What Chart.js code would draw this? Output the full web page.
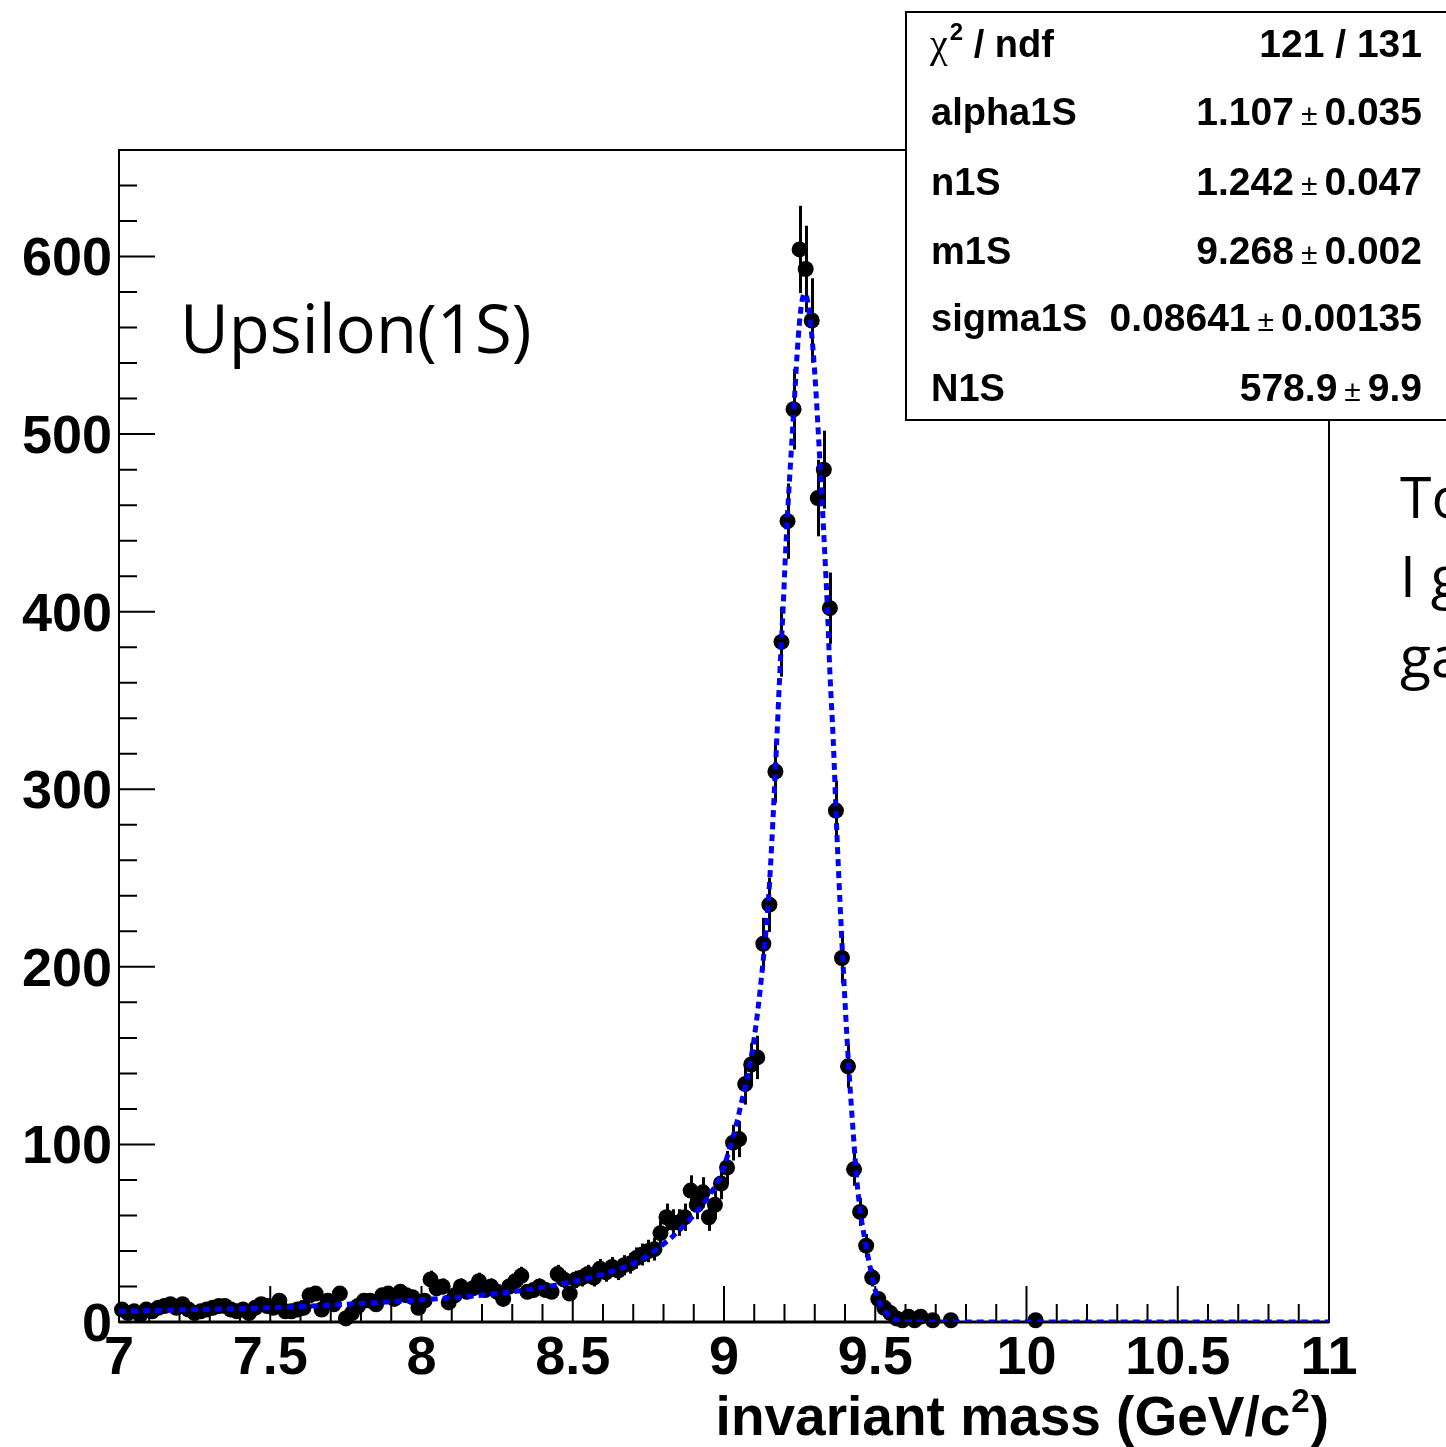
<!DOCTYPE html>
<html>
<head>
<meta charset="utf-8">
<script src="https://cdn.jsdelivr.net/npm/chart.js@4.4.1/dist/chart.umd.min.js"></script>
<style>
  html, body { margin: 0; padding: 0; background: #fff; overflow: hidden; }
  canvas { display: block; }
</style>
</head>
<body>
<canvas id="chart" width="1446" height="1447"></canvas>
<script>
// bin centres (GeV/c^2) of the non-empty bins and their counts
const binCenters = [
  7.01, 7.03, 7.05, 7.07, 7.09, 7.11, 7.13, 7.15, 7.17, 7.19,
  7.21, 7.23, 7.25, 7.27, 7.29, 7.31, 7.33, 7.35, 7.37, 7.39,
  7.41, 7.43, 7.45, 7.47, 7.49, 7.51, 7.53, 7.55, 7.57, 7.59,
  7.61, 7.63, 7.65, 7.67, 7.69, 7.71, 7.73, 7.75, 7.77, 7.79,
  7.81, 7.83, 7.85, 7.87, 7.89, 7.91, 7.93, 7.95, 7.97, 7.99,
  8.01, 8.03, 8.05, 8.07, 8.09, 8.11, 8.13, 8.15, 8.17, 8.19,
  8.21, 8.23, 8.25, 8.27, 8.29, 8.31, 8.33, 8.35, 8.37, 8.39,
  8.41, 8.43, 8.45, 8.47, 8.49, 8.51, 8.53, 8.55, 8.57, 8.59,
  8.61, 8.63, 8.65, 8.67, 8.69, 8.71, 8.73, 8.75, 8.77, 8.79,
  8.81, 8.83, 8.85, 8.87, 8.89, 8.91, 8.93, 8.95, 8.97, 8.99,
  9.01, 9.03, 9.05, 9.07, 9.09, 9.11, 9.13, 9.15, 9.17, 9.19,
  9.21, 9.23, 9.25, 9.27, 9.29, 9.31, 9.33, 9.35, 9.37, 9.39,
  9.41, 9.43, 9.45, 9.47, 9.49, 9.51, 9.53, 9.55, 9.57, 9.59,
  9.61, 9.63, 9.65, 9.69, 9.75, 10.03
];
const counts = [
  7, 5, 6, 4, 7, 6, 8, 9, 10, 8,
  10, 7, 5, 6, 7, 8, 9, 9, 7, 6,
  7, 5, 8, 10, 9, 8, 12, 6, 6, 7,
  8, 15, 16, 7, 12, 10, 16, 2, 5, 9,
  12, 12, 10, 15, 16, 13, 17, 15, 14, 8,
  12, 24, 19, 20, 11, 15, 20, 17, 19, 23,
  18, 20, 17, 13, 20, 23, 26, 17, 18, 20,
  18, 17, 27, 24, 16, 24, 25, 27, 25, 30,
  28, 31, 29, 32, 33, 36, 38, 40, 41, 50,
  59, 56, 56, 59, 74, 66, 73, 59, 66, 78,
  87, 101, 103, 134, 145, 149, 213, 235, 310, 383,
  451, 514, 604, 593, 564, 464, 480, 402, 288, 205,
  144, 86, 62, 43, 25, 13, 8, 5, 2, 1,
  3, 1, 3, 1, 1, 1
];

// fitted curve
const fitMass = [
  7.0, 7.25, 7.5, 7.75, 8.0, 8.25, 8.45, 8.6, 8.7, 8.77,
  8.86, 8.95, 8.99, 9.014, 9.042, 9.058, 9.075, 9.1, 9.125, 9.147,
  9.158, 9.174, 9.185, 9.196, 9.202, 9.213, 9.224, 9.235, 9.242, 9.249,
  9.257, 9.265, 9.272, 9.279, 9.29, 9.301, 9.312, 9.323, 9.334, 9.342,
  9.35, 9.361, 9.372, 9.383, 9.394, 9.411, 9.422, 9.427, 9.439, 9.45,
  9.466, 9.483, 9.5, 9.516, 9.538, 9.571, 9.6, 11.0
];
const fitValue = [
  6, 7, 8, 10, 12.5, 16, 21, 27, 33, 40,
  53, 71, 83, 95, 112, 124, 136, 160, 196, 238,
  270, 326, 367, 404, 428, 464, 495, 526, 546, 562,
  574, 579, 578, 572, 556, 532, 500, 466, 430, 401,
  366, 328, 280, 238, 200, 147, 119, 107, 80, 63,
  46, 31, 18, 10, 5, 1, 0, 0
];

const xTickValues = [7, 7.5, 8, 8.5, 9, 9.5, 10, 10.5, 11];
const xTickLabels = ['7', '7.5', '8', '8.5', '9', '9.5', '10', '10.5', '11'];
const yTickValues = [0, 100, 200, 300, 400, 500, 600];

const chi2Text = '121 / 131';
const statNames = ['alpha1S', 'n1S', 'm1S', 'sigma1S', 'N1S'];
const statValues = ['1.107', '1.242', '9.268', '0.08641', '578.9'];
const statErrors = ['0.035', '0.047', '0.002', '0.00135', '9.9'];

const BOLD = '"Liberation Sans", Arial, sans-serif';

const rootStyle = {
  id: 'rootStyle',
  beforeDatasetsDraw(chart) {
    const { ctx, chartArea: a } = chart;
    const xs = chart.scales.x, ys = chart.scales.y;
    ctx.save();

    // frame
    ctx.strokeStyle = '#000';
    ctx.lineWidth = 2;
    ctx.strokeRect(a.left, a.top, a.right - a.left, a.bottom - a.top);
    ctx.lineWidth = 3;
    ctx.beginPath();
    ctx.moveTo(a.left, a.bottom);
    ctx.lineTo(a.right, a.bottom);
    ctx.stroke();

    // inner ticks
    ctx.lineWidth = 2;
    ctx.beginPath();
    for (let i = 0; i <= 40; i++) {
      const px = xs.getPixelForValue(7 + i * 0.1);
      const len = i % 5 === 0 ? 36 : 18;
      ctx.moveTo(px, a.bottom);
      ctx.lineTo(px, a.bottom - len);
    }
    for (let v = 0; v <= 640; v += 20) {
      const py = ys.getPixelForValue(v);
      const len = v % 100 === 0 ? 36 : 18;
      ctx.moveTo(a.left, py);
      ctx.lineTo(a.left + len, py);
    }
    ctx.stroke();

    // vertical error bars, sqrt(N)
    ctx.lineWidth = 3;
    binCenters.forEach((m, i) => {
      const n = counts[i];
      const e = Math.sqrt(n);
      const px = Math.round(xs.getPixelForValue(m)) + 0.5;
      ctx.beginPath();
      ctx.moveTo(px, ys.getPixelForValue(n - e));
      ctx.lineTo(px, ys.getPixelForValue(n + e));
      ctx.stroke();
    });
    ctx.restore();
  },
  afterDraw(chart) {
    const { ctx, chartArea: a } = chart;
    ctx.save();

    // axis title
    ctx.fillStyle = '#000';
    ctx.textBaseline = 'alphabetic';
    ctx.textAlign = 'left';
    ctx.font = 'bold 55px ' + BOLD;
    const tMain = 'invariant mass (GeV/c', tEnd = ')';
    const wMain = ctx.measureText(tMain).width, wEnd = ctx.measureText(tEnd).width;
    ctx.font = 'bold 33px ' + BOLD;
    const wSup = ctx.measureText('2').width;
    let tx = a.right - wEnd - wSup - 2 - wMain;
    ctx.font = 'bold 55px ' + BOLD;
    ctx.fillText(tMain, tx, 1435);
    ctx.font = 'bold 33px ' + BOLD;
    ctx.fillText('2', tx + wMain + 1, 1412);
    ctx.font = 'bold 55px ' + BOLD;
    ctx.fillText(tEnd, tx + wMain + wSup + 2, 1435);

    // labels on the pad
    ctx.font = '67px "Open Sans", "Noto Sans", sans-serif';
    ctx.fillText('Upsilon(1S)', 180, 353);
    ctx.font = '57px "Open Sans", "Noto Sans", sans-serif';
    ctx.fillText('To', 1400, 518);
    ctx.fillText('I g', 1400, 597);
    ctx.fillText('ga', 1400, 677);

    // stats box
    ctx.fillStyle = '#fff';
    ctx.fillRect(906, 12, 600, 408);
    ctx.strokeStyle = '#000';
    ctx.lineWidth = 2;
    ctx.strokeRect(906, 12, 600, 408);
    ctx.fillStyle = '#000';

    const rowBase = [57, 125, 195, 264, 331, 401];
    const right = 1422;
    ctx.textAlign = 'left';
    ctx.font = '40px "Liberation Serif", "DejaVu Serif", serif';
    ctx.fillText('χ', 930, rowBase[0]);
    let cx = 930 + ctx.measureText('χ').width + 2;
    ctx.font = 'bold 24px ' + BOLD;
    ctx.fillText('2', cx, rowBase[0] - 17);
    cx += ctx.measureText('2').width;
    ctx.font = 'bold 38px ' + BOLD;
    ctx.fillText(' / ndf', cx, rowBase[0]);
    ctx.textAlign = 'right';
    ctx.font = 'bold 39px ' + BOLD;
    ctx.fillText(chi2Text, right, rowBase[0]);

    statNames.forEach((name, i) => {
      const yb = rowBase[i + 1];
      ctx.textAlign = 'left';
      ctx.font = 'bold 38px ' + BOLD;
      ctx.fillText(name, 931, yb);
      ctx.textAlign = 'right';
      ctx.font = 'bold 39px ' + BOLD;
      ctx.fillText(statErrors[i], right, yb);
      let rx = right - ctx.measureText(statErrors[i]).width - 7;
      ctx.font = '30px ' + BOLD;
      ctx.fillText('±', rx, yb);
      rx -= ctx.measureText('±').width + 7;
      ctx.font = 'bold 39px ' + BOLD;
      ctx.fillText(statValues[i], rx, yb);
    });

    ctx.restore();
  }
};

new Chart(document.getElementById('chart'), {
  type: 'scatter',
  data: {
    datasets: [
      {
        label: 'fit',
        data: fitMass.map((m, i) => ({ x: m, y: fitValue[i] })),
        showLine: true,
        borderColor: '#0000ff',
        borderWidth: 5,
        borderDash: [7, 5],
        borderCapStyle: 'butt',
        cubicInterpolationMode: 'monotone',
        pointRadius: 0,
        fill: false,
        order: 1
      },
      {
        label: 'data',
        data: binCenters.map((m, i) => ({ x: m, y: counts[i] })),
        pointRadius: 8,
        pointBackgroundColor: '#000',
        pointBorderWidth: 0,
        clip: false,
        order: 2
      }
    ]
  },
  options: {
    responsive: false,
    animation: false,
    devicePixelRatio: 1,
    layout: { padding: { top: 150, right: 117, left: 0, bottom: 0 } },
    plugins: { legend: { display: false }, tooltip: { enabled: false } },
    scales: {
      x: {
        type: 'linear',
        min: 7,
        max: 11,
        afterFit: (s) => { s.height = 125; },
        afterBuildTicks: (s) => { s.ticks = xTickValues.map(v => ({ value: v })); },
        grid: { display: false, drawTicks: false, tickLength: 0 },
        border: { display: false },
        ticks: {
          autoSkip: false,
          maxRotation: 0,
          minRotation: 0,
          padding: 5,
          color: '#000',
          font: { family: BOLD, weight: 'bold', size: 54 },
          callback: (v, i) => xTickLabels[i]
        }
      },
      y: {
        type: 'linear',
        min: 0,
        max: 660,
        afterFit: (s) => { s.width = 119; },
        afterBuildTicks: (s) => { s.ticks = yTickValues.map(v => ({ value: v })); },
        grid: { display: false, drawTicks: false, tickLength: 0 },
        border: { display: false },
        ticks: {
          padding: 7,
          labelOffset: 4,
          color: '#000',
          font: { family: BOLD, weight: 'bold', size: 54 },
          callback: (v) => String(v)
        }
      }
    }
  },
  plugins: [rootStyle]
});
</script>
</body>
</html>
